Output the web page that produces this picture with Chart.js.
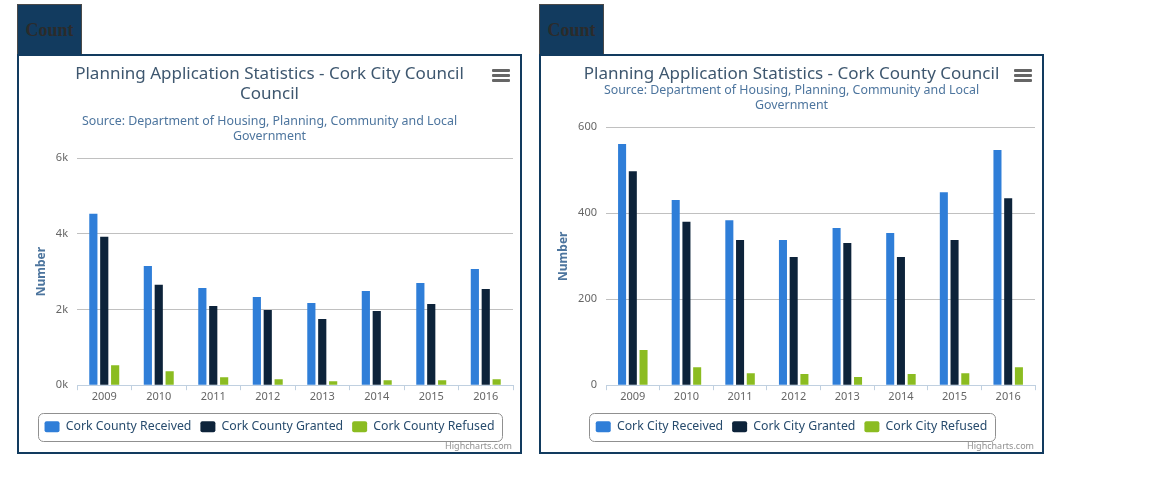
<!DOCTYPE html>
<html>
<head>
<meta charset="utf-8">
<title>Planning Application Statistics</title>
<script src="https://cdn.jsdelivr.net/npm/chart.js@4.4.1/dist/chart.umd.min.js"></script>
<style>
  body { margin: 0; background: #fff; font-family: 'Noto Sans', sans-serif; }
  .tab {
    position: absolute; top: 4px; width: 65px; height: 50px;
    background: #123b5f; border: 1px solid #4a4a4a; border-bottom: none;
    font: bold 18px 'Liberation Serif', serif; color: #2b2b2b;
    line-height: 50px; text-align: center; box-sizing: border-box;
  }
  .box {
    position: absolute; top: 54px; width: 501px; height: 396px;
    border: 2px solid #123b5f; background: #fff;
  }
  .box .wrap { position: absolute; left: 0; top: 0; width: 501px; height: 396px; }
  .menu { position: absolute; left: 473px; top: 13px; width: 18px; }
  .menu span { display: block; height: 3px; margin-bottom: 2px; background: #666; border-radius: 1px; }
  .credit {
    position: absolute; right: 8px; top: 384px; font-size: 9px; line-height: 11px;
    color: #909090; font-family: 'Noto Sans', sans-serif;
  }
</style>
</head>
<body>
<div class="tab" style="left:17px">Count</div>
<div class="tab" style="left:539px">Count</div>

<div class="box" style="left:17px">
  <div class="wrap"><canvas id="countyChart"></canvas></div>
  <div class="menu"><span></span><span></span><span></span></div>
  <div class="credit">Highcharts.com</div>
</div>
<div class="box" style="left:539px">
  <div class="wrap"><canvas id="cityChart"></canvas></div>
  <div class="menu"><span></span><span></span><span></span></div>
  <div class="credit">Highcharts.com</div>
</div>

<script>
const years = ['2009', '2010', '2011', '2012', '2013', '2014', '2015', '2016'];

// left chart
const countyReceived = [4530, 3150, 2570, 2330, 2170, 2490, 2700, 3070];
const countyGranted = [3920, 2650, 2090, 1985, 1750, 1960, 2145, 2540];
const countyRefused = [530, 370, 212, 160, 106, 132, 132, 160];
const countyTicks = ['0k', '2k', '4k', '6k'];

// right chart
const cityReceived = [561, 431, 384, 338, 366, 354, 449, 547];
const cityGranted = [498, 380, 338, 298, 331, 298, 338, 435];
const cityRefused = [82, 42, 28, 26, 19, 26, 28, 42];
const cityTicks = ['0', '200', '400', '600'];

const FONT = "'Noto Sans', sans-serif";
const colors = ['#2f7ed8', '#0d233a', '#8bbc21'];

// draws the rounded frame around the legend items
const legendFrame = {
  id: 'legendFrame',
  afterDraw(chart) {
    const boxes = chart.legend.legendHitBoxes;
    if (!boxes || !boxes.length) return;
    const left = Math.min(...boxes.map(b => b.left)) - 7;
    const right = Math.max(...boxes.map(b => b.left + b.width)) + 7;
    const mid = boxes[0].top + boxes[0].height / 2;
    const ctx = chart.ctx;
    ctx.save();
    ctx.strokeStyle = '#909090';
    ctx.lineWidth = 1;
    ctx.beginPath();
    ctx.roundRect(Math.round(left) + 0.5, Math.round(mid - 14) + 0.5, Math.round(right - left), 28, 5);
    ctx.stroke();
    ctx.restore();
  }
};

function makeChart(id, cfg) {
  const ctx = document.getElementById(id).getContext('2d');
  return new Chart(ctx, {
    type: 'bar',
    data: {
      labels: years,
      datasets: cfg.names.map((name, i) => ({
        label: name,
        data: cfg.series[i],
        backgroundColor: colors[i],
        borderWidth: 0,
        categoryPercentage: 0.6,
        barPercentage: 0.75
      }))
    },
    options: {
      responsive: true,
      maintainAspectRatio: false,
      animation: false,
      layout: { padding: { left: 7, right: 7, top: 0, bottom: 9 } },
      plugins: {
        title: {
          display: true,
          text: cfg.title,
          color: '#3e576f',
          font: { family: FONT, size: 17, weight: 'normal', lineHeight: cfg.titleLine },
          padding: { top: cfg.titleTop, bottom: 0 }
        },
        subtitle: {
          display: true,
          text: ['Source: Department of Housing, Planning, Community and Local', 'Government'],
          color: '#4d759e',
          font: { family: FONT, size: 12.4, weight: 'normal', lineHeight: '15px' },
          padding: { top: cfg.subTop, bottom: cfg.subBottom }
        },
        legend: {
          position: 'bottom',
          labels: {
            boxWidth: 15,
            boxHeight: 11,
            useBorderRadius: true,
            borderRadius: 2,
            padding: 9,
            color: '#274b6d',
            font: { family: FONT, size: 12.3 }
          }
        },
        tooltip: { enabled: false }
      },
      scales: {
        x: {
          grid: { display: true, drawOnChartArea: false, tickLength: 5, color: '#c0d0e0', offset: true },
          border: { color: '#c0d0e0' },
          ticks: { color: '#666', font: { family: FONT, size: 11 }, padding: 0, maxRotation: 0 },
          afterFit: s => { s.height = 26.5; }
        },
        y: {
          min: 0,
          max: cfg.max,
          ticks: {
            stepSize: cfg.step,
            color: '#666',
            padding: 9,
            font: { family: FONT, size: 11 },
            callback: (v, i) => cfg.ticks[i]
          },
          grid: { color: '#c0c0c0', drawTicks: false },
          border: { display: false },
          title: {
            display: true,
            text: 'Number',
            color: '#4d759e',
            font: { family: FONT, size: 12, weight: 'bold' },
            padding: { top: 8, bottom: 0 }
          },
          afterFit: s => { s.width = cfg.yWidth; }
        }
      }
    },
    plugins: [legendFrame]
  });
}

makeChart('countyChart', {
  title: ['Planning Application Statistics - Cork City Council', 'Council'],
  titleLine: '20px',
  titleTop: 8,
  subTop: 9.5,
  subBottom: 14.5,
  names: ['Cork County Received', 'Cork County Granted', 'Cork County Refused'],
  series: [countyReceived, countyGranted, countyRefused],
  max: 6000,
  step: 2000,
  ticks: countyTicks,
  yWidth: 51
});

makeChart('cityChart', {
  title: 'Planning Application Statistics - Cork County Council',
  titleLine: '16px',
  titleTop: 10,
  subTop: 0.5,
  subBottom: 14.8,
  names: ['Cork City Received', 'Cork City Granted', 'Cork City Refused'],
  series: [cityReceived, cityGranted, cityRefused],
  max: 600,
  step: 200,
  ticks: cityTicks,
  yWidth: 58
});
</script>
</body>
</html>
